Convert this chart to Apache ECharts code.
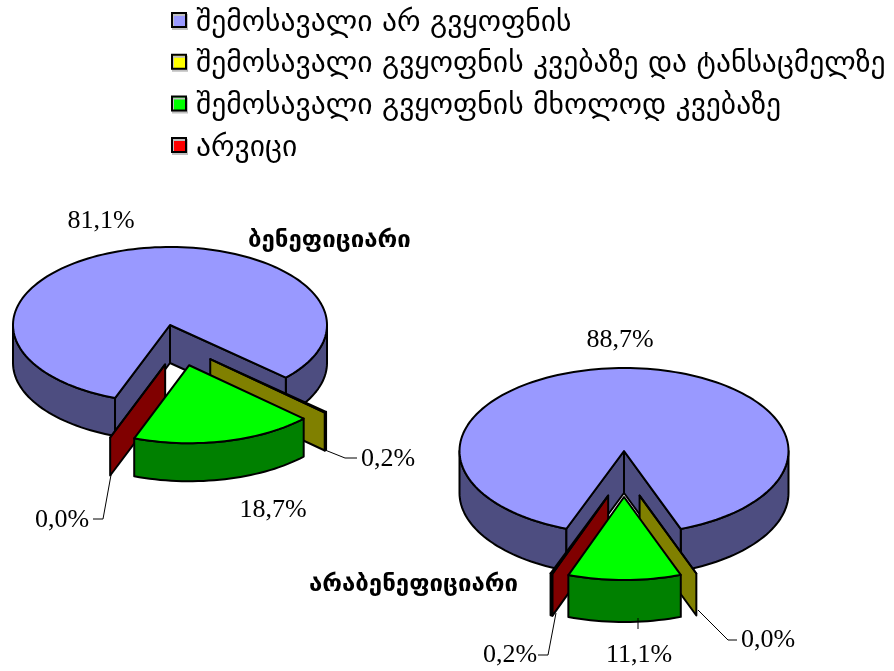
<!DOCTYPE html>
<html>
<head>
<meta charset="utf-8">
<script src="https://cdn.jsdelivr.net/npm/echarts@6/dist/echarts.min.js"></script>
<style>
    html, body { margin: 0; background: #fff; }
    #main { width: 894px; height: 671px; }
</style>
</head>
<body>
<div id="main"></div>
<script>
// values, one list per pie, same order as categories
var categories = [
    'შემოსავალი არ გვყოფნის',
    'შემოსავალი გვყოფნის კვებაზე და ტანსაცმელზე',
    'შემოსავალი გვყოფნის მხოლოდ კვებაზე',
    'არვიცი'
];
var pieNames = ['ბენეფიციარი', 'არაბენეფიციარი'];
var beneficiary = [81.1, 0.2, 18.7, 0.0];
var nonBeneficiary = [88.7, 0.0, 11.1, 0.2];
var pieRows = [beneficiary, nonBeneficiary];

var topColors = ['#9999ff', '#ffff00', '#00ff00', '#ff0000'];
var sideColors = ['#4d4d80', '#808000', '#008000', '#800000'];

// where the pies sit on the page. ax/ay = tip of the big slice
var pieBoxes = [
    { ax: 170, ay: 325, rx: 157, ry: 78, h: 38, explode: 0.265 },
    { ax: 624, ay: 451, rx: 164.5, ry: 83, h: 42, explode: 0.277 }
];
var firstAngle = 110.5;

// label placement [pie][category]: x, y, leader elbow points
var labelBoxes = [
    [
        { x: 101, y: 221 },
        { x: 388, y: 459, line: [[325, 450], [345, 458], [357, 458]] },
        { x: 273, y: 510 },
        { x: 62, y: 520, line: [[111, 475], [103, 519], [93, 519]] }
    ],
    [
        { x: 620, y: 340 },
        { x: 768, y: 640, line: [[698, 610], [728, 640], [737, 640]] },
        { x: 639, y: 655, line: [[638, 618], [638, 629]] },
        { x: 510, y: 655, line: [[556, 613], [548, 655], [538, 655]] }
    ]
];

function rad(d) { return d * Math.PI / 180; }

function renderSlice(params, api) {
    var cat = params.seriesIndex;
    var pieIdx = params.dataIndex;
    var row = pieRows[pieIdx];
    var box = pieBoxes[pieIdx];

    var total = 0;
    for (var i = 0; i < row.length; i++) total += row[i];
    var before = 0;
    for (var j = 0; j < cat; j++) before += row[j];

    var a0 = firstAngle + before / total * 360;
    var a1 = a0 + api.value(0) / total * 360;
    var mid = (a0 + a1) / 2;

    // pie centre comes from the big slice, every slice is pushed out along its mid angle
    var bigMid = firstAngle + row[0] / total * 180;
    var cx = box.ax - box.explode * box.rx * Math.cos(rad(bigMid));
    var cy = box.ay - box.explode * box.ry * Math.sin(rad(bigMid));
    var px = cx + box.explode * box.rx * Math.cos(rad(mid));
    var py = cy + box.explode * box.ry * Math.sin(rad(mid));

    function rim(a, drop) {
        return [px + box.rx * Math.cos(rad(a)), py + box.ry * Math.sin(rad(a)) + (drop || 0)];
    }
    function arc(from, to, drop) {
        var pts = [];
        var n = Math.max(1, Math.ceil(Math.abs(to - from) / 2));
        for (var k = 0; k <= n; k++) pts.push(rim(from + (to - from) * k / n, drop));
        return pts;
    }

    var side = { fill: sideColors[cat], stroke: '#000', lineWidth: 2, lineJoin: 'round' };
    var parts = [];

    // outer wall, only the front half of the ellipse shows
    for (var t = -1; t <= 2; t++) {
        var lo = Math.max(a0, t * 360);
        var hi = Math.min(a1, t * 360 + 180);
        if (hi > lo) {
            parts.push({
                type: 'polygon',
                shape: { points: arc(lo, hi, 0).concat(arc(hi, lo, box.h)) },
                style: side
            });
        }
    }
    // cut faces
    if (Math.cos(rad(a0)) < 0) {
        parts.push({
            type: 'polygon',
            shape: { points: [[px, py], rim(a0), rim(a0, box.h), [px, py + box.h]] },
            style: side
        });
    }
    if (Math.cos(rad(a1)) > 0) {
        parts.push({
            type: 'polygon',
            shape: { points: [[px, py], rim(a1), rim(a1, box.h), [px, py + box.h]] },
            style: side
        });
    }
    // top
    parts.push({
        type: 'polygon',
        shape: { points: [[px, py]].concat(arc(a0, a1, 0)) },
        style: { fill: topColors[cat], stroke: '#000', lineWidth: 2, lineJoin: 'round' }
    });

    // label and leader
    var lab = labelBoxes[pieIdx][cat];
    if (lab.line) {
        parts.push({
            type: 'polyline',
            shape: { points: lab.line },
            style: { fill: null, stroke: '#000', lineWidth: 1 }
        });
    }
    parts.push({
        type: 'text',
        style: {
            text: api.value(0).toFixed(1).replace('.', ',') + '%',
            x: lab.x,
            y: lab.y,
            fill: '#000',
            align: 'center',
            verticalAlign: 'middle',
            font: '26px "Liberation Serif"'
        }
    });

    return { type: 'group', children: parts };
}

var drawOrder = [1, 2, 4, 3];
var seriesList = categories.map(function (name, i) {
    return {
        name: name,
        type: 'custom',
        coordinateSystem: 'none',
        z: drawOrder[i],
        animation: false,
        silent: true,
        itemStyle: { color: topColors[i] },
        renderItem: renderSlice,
        data: pieRows.map(function (row, p) {
            return { name: pieNames[p], value: [row[i]] };
        })
    };
});

var myChart = echarts.init(document.getElementById('main'));
myChart.setOption({
    animation: false,
    backgroundColor: '#fff',
    title: [
        {
            text: pieNames[0],
            left: 248,
            top: 229,
            padding: 0,
            textStyle: { fontFamily: 'DejaVu Sans', fontSize: 24, fontWeight: 'bold', color: '#000' }
        },
        {
            text: pieNames[1],
            left: 309,
            top: 573,
            padding: 0,
            textStyle: { fontFamily: 'DejaVu Sans', fontSize: 24, fontWeight: 'bold', color: '#000' }
        }
    ],
    legend: {
        orient: 'vertical',
        left: 171,
        top: 2,
        padding: 0,
        icon: 'rect',
        itemWidth: 14,
        itemHeight: 14,
        itemGap: 5.7,
        selectedMode: false,
        data: categories,
        formatter: '{t|{name}}',
        itemStyle: {
            borderColor: '#000',
            borderWidth: 2,
            shadowColor: '#c0c0c0',
            shadowOffsetX: 1,
            shadowOffsetY: 2,
            shadowBlur: 0
        },
        textStyle: {
            color: '#000',
            rich: {
                t: { fontFamily: 'DejaVu Sans', fontSize: 29.6, color: '#000', lineHeight: 30, padding: [6, 0, 0, 5] }
            }
        }
    },
    series: seriesList
});
</script>
</body>
</html>
